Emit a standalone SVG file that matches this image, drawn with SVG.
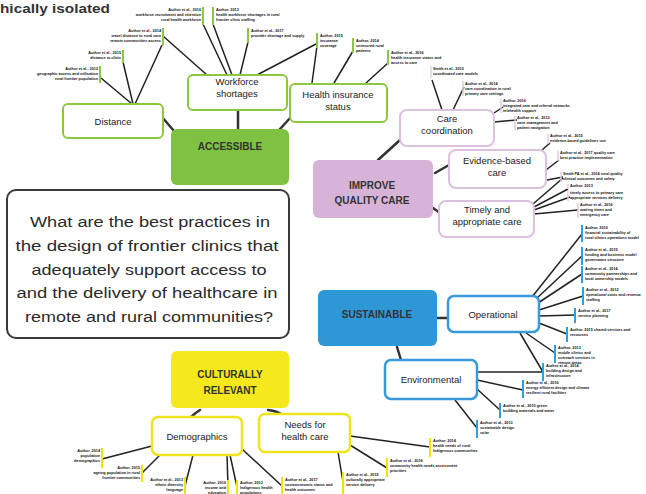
<svg xmlns="http://www.w3.org/2000/svg" width="646" height="494" viewBox="0 0 646 494">
<style>
.t{font-family:"Liberation Sans",Arial,sans-serif;fill:#222;text-anchor:middle}
.n{font-size:9.5px}
.h{font-size:10px;font-weight:bold;fill:#333}
.q{font-size:15.5px;fill:#2a2a2a}
.lf{font-family:"Liberation Sans",Arial,sans-serif;font-size:3.8px;font-weight:bold;fill:#111}
.e{text-anchor:end}
.mc{stroke:#333;stroke-width:2.5;fill:none;stroke-linecap:round}
.lc{stroke:#222;stroke-width:1.5;fill:none}
.bg{stroke:#8dc63f;stroke-width:2}
.bp{stroke:#e2cbe3;stroke-width:1.5}
.bb{stroke:#2e9ee0;stroke-width:2}
.by{stroke:#f2e600;stroke-width:2}
.sg{fill:#fff;stroke:#8dc63f;stroke-width:2}
.sp{fill:#fff;stroke:#dcc0dd;stroke-width:2}
.sb{fill:#fff;stroke:#3a9ad9;stroke-width:2.5}
.sy{fill:#fff;stroke:#f0e420;stroke-width:2.5}
</style>
<rect width="646" height="494" fill="#fff"/>
<text x="0" y="13" textLength="110" lengthAdjust="spacingAndGlyphs" style="font-family:'Liberation Sans',Arial,sans-serif;font-size:13.5px;font-weight:bold;fill:#333">hically isolated</text>

<g id="connectors">
<path class="mc" d="M162,117L174,131M238,110L238,129M280,129L291,117M378,160L400,140M435,173L449,165M433,208L443,215M437,318L448,318M397,347L401,360M200,410Q195,413 190,418M268,410Q278,411 284,416"/>
<path class="lc" d="M132,104L101,78M133,104L123,62M135,104L162,45M207,75L163,36M227,75L203,24M232,75L213,24M240,75L248,42M257,75L316,44M312,83L317,46M334,83L353,51M366,83L388,63M442,110L432,80M453,110L464,87M494,113L503,107M494,122L517,120M542,150L550,143M546,170L559,160M547,180L563,177M533,204L563,178M534,207L568,189M534,210L570,197M534,214L578,210M532,297L582,234M536,299L582,256M538,303L582,274M539,310L583,296M539,316L575,315M539,323L567,334M526,333L555,353M520,333L543,372M477,372L543,372M477,380L523,390M477,389L500,410M455,400L477,428M350,436L430,447M350,445L387,468M338,452L343,482M152,446L102,459M160,455L142,473M193,455L185,486M227,455L228,487M230,455L237,487M242,449L282,486"/>
</g>

<g id="leaves">
<path class="bg" d="M163,28V45M123,50V63M100,66V83M203,7V25M213,7V25M248,28V43M317,33V48M353,38V53M388,50V65"/>
<path class="bp" d="M431,66V78M463,81V96M501,99V113M515,116V130M548,134V144M558,151V161M561,172V182M568,184V189M568,191V201M578,203V218"/>
<path class="bb" d="M582,225V242M582,247V265M582,266V283M583,287V305M575,308V323M567,327V342M555,345V363M543,363V381M523,380V398M500,403V418M477,420V438"/>
<path class="by" d="M430,438V457M387,458V477M343,472V494M102,448V468M142,465V482M185,477V494M228,480V494M237,480V494M282,477V494"/>
<text class="lf e" x="161" y="32">Author et al., 2014<tspan x="161" dy="5">travel distance to rural care</tspan><tspan x="161" dy="5">remote communities access</tspan></text>
<text class="lf e" x="121" y="54">Author et al., 2015<tspan x="121" dy="5">distance to clinic</tspan></text>
<text class="lf e" x="98" y="70">Author et al., 2012<tspan x="98" dy="5">geographic access and utilisation</tspan><tspan x="98" dy="5">rural frontier population</tspan></text>
<text class="lf e" x="201" y="11">Author et al., 2016<tspan x="201" dy="5">workforce recruitment and retention</tspan><tspan x="201" dy="5">rural health workforce</tspan></text>
<text class="lf" x="216" y="11">Author, 2013<tspan x="216" dy="5">health workforce shortages in rural</tspan><tspan x="216" dy="5">frontier clinic staffing</tspan></text>
<text class="lf" x="251" y="32">Author et al., 2017<tspan x="251" dy="5">provider shortage and supply</tspan></text>
<text class="lf" x="320" y="37">Author, 2015<tspan x="320" dy="5">insurance</tspan><tspan x="320" dy="5">coverage</tspan></text>
<text class="lf" x="356" y="42">Author, 2014<tspan x="356" dy="5">uninsured rural</tspan><tspan x="356" dy="5">patients</tspan></text>
<text class="lf" x="391" y="54">Author et al., 2016<tspan x="391" dy="5">health insurance status and</tspan><tspan x="391" dy="5">access to care</tspan></text>
<text class="lf" x="433" y="70">Smith et al., 2015<tspan x="433" dy="5">coordinated care models</tspan></text>
<text class="lf" x="465" y="85">Author et al., 2014<tspan x="465" dy="5">care coordination in rural</tspan><tspan x="465" dy="5">primary care settings</tspan></text>
<text class="lf" x="503" y="102">Author, 2016<tspan x="503" dy="5">integrated care and referral networks</tspan><tspan x="503" dy="5">telehealth support</tspan></text>
<text class="lf" x="517" y="119">Author et al., 2013<tspan x="517" dy="5">case management and</tspan><tspan x="517" dy="5">patient navigation</tspan></text>
<text class="lf" x="550" y="137">Author et al., 2015<tspan x="550" dy="5">evidence-based guidelines use</tspan></text>
<text class="lf" x="560" y="154">Author et al., 2017 quality care<tspan x="560" dy="5">best practice implementation</tspan></text>
<text class="lf" x="563" y="175">Smith PA et al., 2014 rural quality<tspan x="563" dy="5">clinical outcomes and safety</tspan></text>
<text class="lf" x="570" y="187">Author, 2013</text>
<text class="lf" x="570" y="194">timely access to primary care<tspan x="570" dy="5">appropriate services delivery</tspan></text>
<text class="lf" x="580" y="206">Author et al., 2016<tspan x="580" dy="5">waiting times and</tspan><tspan x="580" dy="5">emergency care</tspan></text>
<text class="lf" x="585" y="229">Author, 2016<tspan x="585" dy="5">financial sustainability of</tspan><tspan x="585" dy="5">rural clinics operations model</tspan></text>
<text class="lf" x="585" y="251">Author et al., 2015<tspan x="585" dy="5">funding and business model</tspan><tspan x="585" dy="5">governance structure</tspan></text>
<text class="lf" x="585" y="270">Author et al., 2014<tspan x="585" dy="5">community partnerships and</tspan><tspan x="585" dy="5">local ownership models</tspan></text>
<text class="lf" x="586" y="291">Author et al., 2012<tspan x="586" dy="5">operational costs and revenue</tspan><tspan x="586" dy="5">staffing</tspan></text>
<text class="lf" x="578" y="312">Author et al., 2017<tspan x="578" dy="5">service planning</tspan></text>
<text class="lf" x="570" y="331">Author, 2015 shared services and<tspan x="570" dy="5">resources</tspan></text>
<text class="lf" x="558" y="349">Author, 2013<tspan x="558" dy="5">mobile clinics and</tspan><tspan x="558" dy="5">outreach services in</tspan><tspan x="558" dy="5">remote areas</tspan></text>
<text class="lf" x="546" y="367">Author et al., 2014<tspan x="546" dy="5">building design and</tspan><tspan x="546" dy="5">infrastructure</tspan></text>
<text class="lf" x="526" y="384">Author et al., 2016<tspan x="526" dy="5">energy efficient design and climate</tspan><tspan x="526" dy="5">resilient rural facilities</tspan></text>
<text class="lf" x="503" y="407">Author et al., 2015 green<tspan x="503" dy="5">building materials and water</tspan></text>
<text class="lf" x="480" y="424">Author et al., 2013<tspan x="480" dy="5">sustainable design</tspan><tspan x="480" dy="5">solar</tspan></text>
<text class="lf" x="433" y="442">Author, 2014<tspan x="433" dy="5">health needs of rural</tspan><tspan x="433" dy="5">Indigenous communities</tspan></text>
<text class="lf" x="390" y="462">Author et al., 2016<tspan x="390" dy="5">community health needs assessment</tspan><tspan x="390" dy="5">priorities</tspan></text>
<text class="lf" x="346" y="476">Author et al., 2015<tspan x="346" dy="5">culturally appropriate</tspan><tspan x="346" dy="5">service delivery</tspan></text>
<text class="lf e" x="100" y="452">Author, 2014<tspan x="100" dy="5">population</tspan><tspan x="100" dy="5">demographics</tspan></text>
<text class="lf e" x="140" y="469">Author, 2015<tspan x="140" dy="5">ageing population in rural</tspan><tspan x="140" dy="5">frontier communities</tspan></text>
<text class="lf e" x="183" y="481">Author et al., 2013<tspan x="183" dy="5">ethnic diversity</tspan><tspan x="183" dy="5">language</tspan></text>
<text class="lf e" x="226" y="484">Author, 2016<tspan x="226" dy="5">income and</tspan><tspan x="226" dy="5">education</tspan></text>
<text class="lf" x="240" y="484">Author, 2012<tspan x="240" dy="5">Indigenous health</tspan><tspan x="240" dy="5">populations</tspan></text>
<text class="lf" x="285" y="481">Author et al., 2017<tspan x="285" dy="5">socioeconomic status and</tspan><tspan x="285" dy="5">health outcomes</tspan></text>
</g>

<g id="question">
<rect x="7" y="190" width="282" height="148" rx="9" fill="#fff" stroke="#3a3a3a" stroke-width="2"/>
<text class="t q" x="150" y="227" textLength="240" lengthAdjust="spacingAndGlyphs">What are the best practices in</text>
<text class="t q" x="147" y="251" textLength="263" lengthAdjust="spacingAndGlyphs">the design of frontier clinics that</text>
<text class="t q" x="149" y="275" textLength="235" lengthAdjust="spacingAndGlyphs">adequately support access to</text>
<text class="t q" x="147" y="298" textLength="261" lengthAdjust="spacingAndGlyphs">and the delivery of healthcare in</text>
<text class="t q" x="149" y="322" textLength="248" lengthAdjust="spacingAndGlyphs">remote and rural communities?</text>
</g>

<g id="accessible">
<rect x="171" y="129" width="118" height="56" rx="6" fill="#7fc241"/>
<text class="t h" x="230" y="150">ACCESSIBLE</text>
</g>
<g id="distance">
<rect class="sg" x="63" y="104" width="100" height="34" rx="5"/>
<text class="t n" x="113" y="125">Distance</text>
</g>
<g id="workforce">
<rect class="sg" x="188" y="75" width="99" height="35" rx="5"/>
<text class="t n" x="237" y="85">Workforce</text>
<text class="t n" x="237" y="97">shortages</text>
</g>
<g id="insurance">
<rect class="sg" x="290" y="84" width="97" height="38" rx="5"/>
<text class="t n" x="338" y="98">Health insurance</text>
<text class="t n" x="338" y="110">status</text>
</g>

<g id="quality">
<rect x="313" y="160" width="120" height="58" rx="6" fill="#d6b3d7"/>
<text class="t h" x="372" y="189">IMPROVE</text>
<text class="t h" x="372" y="204">QUALITY CARE</text>
</g>
<g id="care-coordination">
<rect class="sp" x="400" y="110" width="94" height="36" rx="7"/>
<text class="t n" x="447" y="122">Care</text>
<text class="t n" x="447" y="134">coordination</text>
</g>
<g id="evidence">
<rect class="sp" x="449" y="150" width="97" height="38" rx="7"/>
<text class="t n" x="497" y="164">Evidence-based</text>
<text class="t n" x="497" y="176">care</text>
</g>
<g id="timely">
<rect class="sp" x="439" y="201" width="95" height="36" rx="7"/>
<text class="t n" x="487" y="213">Timely and</text>
<text class="t n" x="487" y="225">appropriate care</text>
</g>

<g id="sustainable">
<rect x="318" y="290" width="119" height="56" rx="6" fill="#2e98d6"/>
<text class="t h" x="377" y="318">SUSTAINABLE</text>
</g>
<g id="operational">
<rect class="sb" x="448" y="296" width="91" height="36" rx="6"/>
<text class="t n" x="493" y="318">Operational</text>
</g>
<g id="environmental">
<rect class="sb" x="385" y="360" width="92" height="39" rx="6"/>
<text class="t n" x="431" y="383">Environmental</text>
</g>

<g id="culturally">
<rect x="171" y="351" width="118" height="57" rx="6" fill="#f5e81c"/>
<text class="t h" x="230" y="378">CULTURALLY</text>
<text class="t h" x="230" y="394">RELEVANT</text>
</g>
<g id="demographics">
<rect class="sy" x="152" y="417" width="90" height="38" rx="6"/>
<text class="t n" x="197" y="440">Demographics</text>
</g>
<g id="needs">
<rect class="sy" x="259" y="414" width="91" height="38" rx="6"/>
<text class="t n" x="305" y="428">Needs for</text>
<text class="t n" x="305" y="440">health care</text>
</g>
</svg>
